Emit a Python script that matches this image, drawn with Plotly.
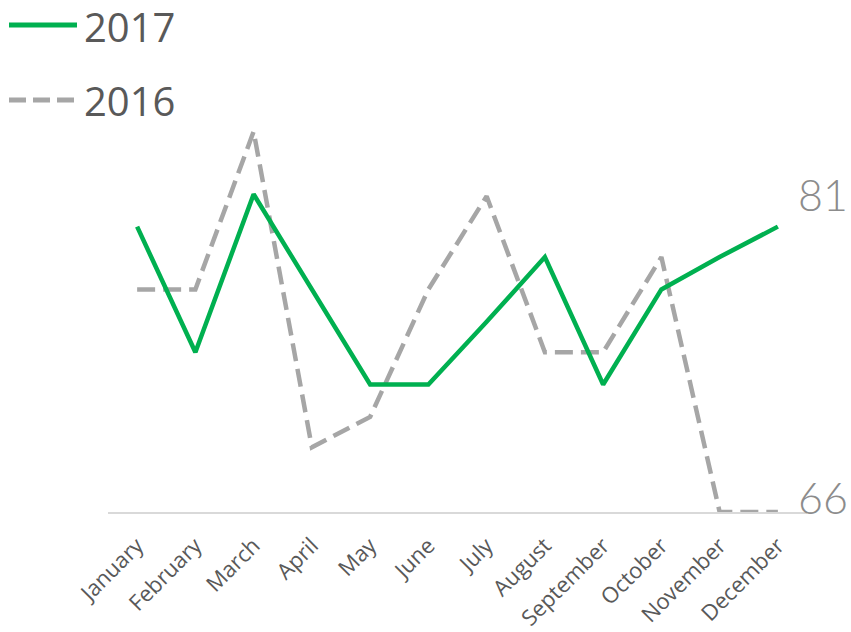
import plotly.graph_objects as go

# months and values
months = ["January", "February", "March", "April", "May", "June",
          "July", "August", "September", "October", "November", "December"]
values_2017 = [81, 74.4, 82.7, 77.7, 72.7, 72.7, 76, 79.4, 72.7, 77.7, 79.4, 81]
values_2016 = [77.7, 77.7, 86, 69.4, 71, 77.7, 82.6, 74.4, 74.4, 79.4, 66, 66]

W, H = 851, 632
L, R, T, B = 108, 44, 122, 120

green = "#00b050"
grey = "#a6a6a6"
txt = "#595959"

def px_x(p):
    return (p - L) / (W - L - R)

def px_y(p):
    return (H - B - p) / (H - T - B)

fig = go.Figure()
fig.add_trace(go.Scatter(x=months, y=values_2016, mode="lines", name="2016",
                         line=dict(color=grey, width=4.5, dash="18px,8px")))
fig.add_trace(go.Scatter(x=months, y=values_2017, mode="lines", name="2017",
                         line=dict(color=green, width=4.5)))

# end labels
fig.add_annotation(x=months[-1], y=values_2017[-1], text=str(values_2017[-1]),
                   showarrow=False, xanchor="left", yanchor="middle", xshift=18, yshift=32,
                   font=dict(family="Lato", size=43, color="#8c8c8c", weight=300))
fig.add_annotation(x=months[-1], y=values_2016[-1], text=str(values_2016[-1]),
                   showarrow=False, xanchor="left", yanchor="middle", xshift=18, yshift=15,
                   font=dict(family="Lato", size=43, color="#8c8c8c", weight=300))

# legend drawn by hand (longer line samples than plotly's legend)
fig.add_shape(type="line", xref="paper", yref="paper",
              x0=px_x(9), x1=px_x(77), y0=px_y(25), y1=px_y(25),
              line=dict(color=green, width=5))
fig.add_shape(type="line", xref="paper", yref="paper",
              x0=px_x(9), x1=px_x(77), y0=px_y(100), y1=px_y(100),
              line=dict(color=grey, width=5, dash="17px,7px"))
fig.add_annotation(xref="paper", yref="paper", x=px_x(83), y=px_y(27), text="2017",
                   showarrow=False, xanchor="left", yanchor="middle", borderpad=0,
                   font=dict(family="Open Sans", size=40, color=txt))
fig.add_annotation(xref="paper", yref="paper", x=px_x(83), y=px_y(101), text="2016",
                   showarrow=False, xanchor="left", yanchor="middle", borderpad=0,
                   font=dict(family="Open Sans", size=40, color=txt))

fig.update_layout(
    width=W, height=H,
    margin=dict(l=L, r=R, t=T, b=B, autoexpand=False),
    plot_bgcolor="white", paper_bgcolor="white",
    showlegend=False,
    xaxis=dict(range=[-0.5, 11.5], showgrid=False, zeroline=False, automargin=False,
               showline=True, linecolor="#d9d9d9", linewidth=2,
               tickangle=-45, ticklabelstandoff=10,
               tickfont=dict(family="Open Sans", size=22, color=txt)),
    yaxis=dict(range=[66, 86.5], showgrid=False, zeroline=False, automargin=False,
               showticklabels=False, showline=False),
)

# page body has a default 8px margin, drop it so the figure sits at the corner
fig.write_html("out.html", config={"displayModeBar": False},
               post_script="document.body.style.margin='0';document.body.style.overflow='hidden';")
